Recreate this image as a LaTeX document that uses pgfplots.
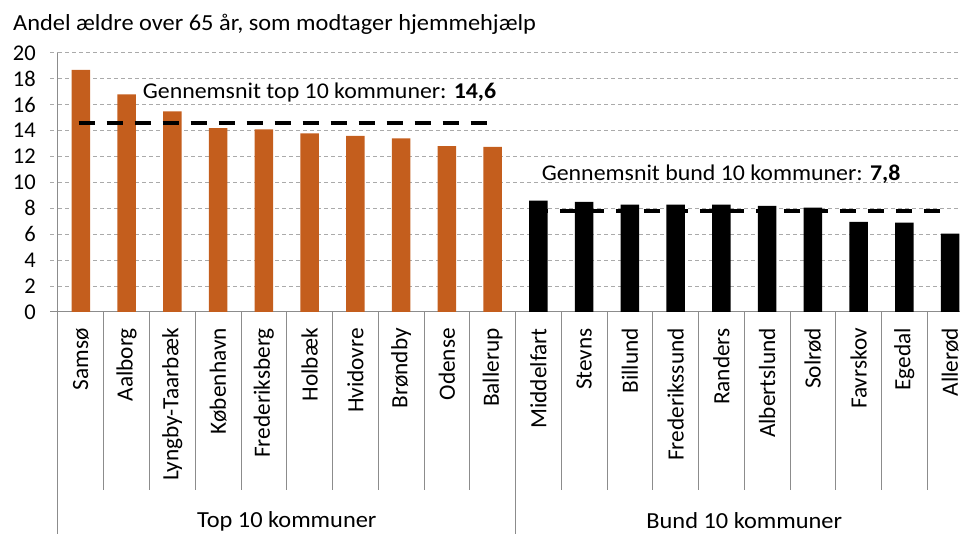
\documentclass[border=0pt]{standalone}
\usepackage{pgfplots}
\pgfplotsset{compat=1.18}
\usepackage{fontspec}
\setmainfont{Carlito}
\newfontfamily\wide{Carlito}[FakeStretch=1.06]
\definecolor{bar1}{RGB}{196,94,29}
\definecolor{gridc}{RGB}{170,170,170}
\definecolor{axc}{RGB}{140,140,140}
\begin{document}
\begin{tikzpicture}[x=1pt,y=1pt]
\useasboundingbox (0,0) rectangle (960,534);
\clip (0,0) rectangle (960,534);
\node[anchor=base west, inner sep=0pt, font=\wide\fontsize{23}{27}\selectfont] at (13,503.5) {Andel ældre over 65 år, som modtager hjemmehjælp};
\begin{axis}[
  at={(58pt,222pt)}, anchor=south west,
  scale only axis, width=915pt, height=259pt,
  xmin=-0.5, xmax=19.5, ymin=0, ymax=20,
  clip=false,
  axis line style={axc, line width=1pt},
  axis x line*=bottom, axis y line*=left,
  ytick={0,2,...,20},
  ymajorgrids, grid style={gridc, line width=1pt, dash pattern=on 4pt off 3pt},
  y axis line style={axc},
  tick align=outside, major tick length=8pt,
  ytick style={gridc, line width=1pt, dash pattern=on 4pt off 3pt},
  xtick={0,...,19},
  xtick style={draw=none},
  xticklabels={Samsø,Aalborg,Lyngby-Taarbæk,København,Frederiksberg,Holbæk,Hvidovre,Brøndby,Odense,Ballerup,Middelfart,Stevns,Billund,Frederikssund,Randers,Albertslund,Solrød,Favrskov,Egedal,Allerød},
  xticklabel style={rotate=90, anchor=east, inner sep=0pt, font=\fontsize{23.3}{27}\selectfont, xshift=-8pt},
  yticklabel style={anchor=east, inner sep=0pt, font=\fontsize{22.5}{26}\selectfont, xshift=-14pt},
  /pgf/number format/assume math mode=true,
  ybar, bar width=18.5pt,
]
\addplot[fill=bar1, draw=none, bar shift=0pt] coordinates {(0,18.7) (1,16.8) (2,15.5) (3,14.2) (4,14.1) (5,13.8) (6,13.6) (7,13.4) (8,12.8) (9,12.75)};
\addplot[fill=black, draw=none, bar shift=0pt] coordinates {(10,8.6) (11,8.5) (12,8.3) (13,8.3) (14,8.3) (15,8.2) (16,8.05) (17,6.95) (18,6.9) (19,6.05)};
\addplot[sharp plot, black, line width=4pt, dash pattern=on 16pt off 12pt] coordinates {(-0.05,14.6) (8.88,14.6)};
\addplot[sharp plot, black, line width=4pt, dash pattern=on 16pt off 12pt] coordinates {(9.85,7.8) (18.9,7.8)};
\node[anchor=base west, inner sep=0pt, font=\wide\fontsize{22.5}{26}\selectfont] at (axis cs:1.35,16.45) {Gennemsnit top 10 kommuner: \textbf{14,6}};
\node[anchor=base west, inner sep=0pt, font=\wide\fontsize{22.5}{26}\selectfont] at (axis cs:10.07,10.14) {Gennemsnit bund 10 kommuner: \textbf{7,8}};
\foreach \i in {0.5,1.5,...,8.5,10.5,11.5,...,18.5} {
  \edef\tmp{\noexpand\draw[axc, line width=1pt] (axis cs:\i,0) -- ++(0pt,-178pt);}\tmp
}
\draw[axc, line width=1pt] (axis cs:-0.5,0) -- ++(0pt,-230pt);
\draw[axc, line width=1pt] (axis cs:9.5,0) -- ++(0pt,-230pt);
\draw[axc, line width=1pt] (axis cs:19.5,0) -- ++(0pt,-230pt);
\draw[axc, line width=1pt] (axis cs:-0.5,0) -- ++(-8pt,0pt);
\node[anchor=center, inner sep=0pt, font=\wide\fontsize{23}{27}\selectfont] at ([yshift=-209pt]axis cs:4.5,0) {Top 10 kommuner};
\node[anchor=center, inner sep=0pt, font=\wide\fontsize{23}{27}\selectfont] at ([yshift=-209pt]axis cs:14.5,0) {Bund 10 kommuner};
\end{axis}
\end{tikzpicture}
\end{document}
